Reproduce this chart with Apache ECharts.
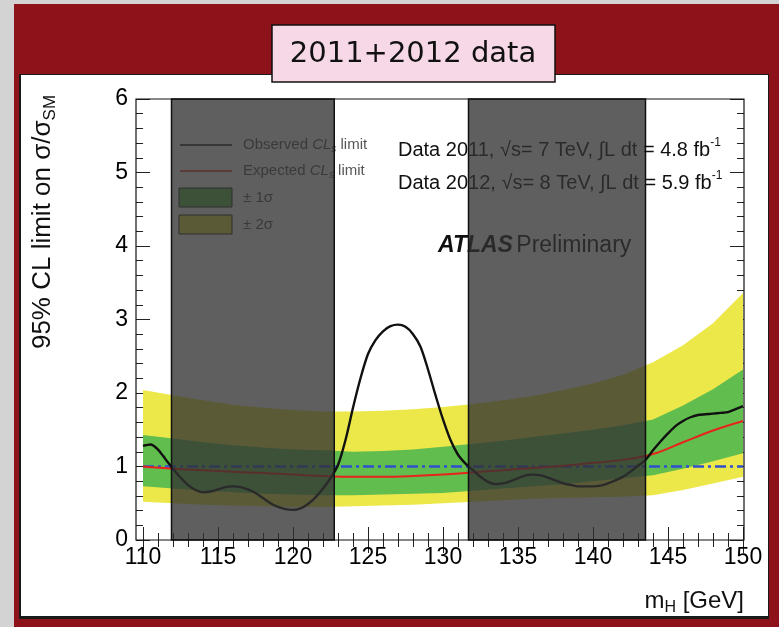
<!DOCTYPE html>
<html>
<head>
<meta charset="utf-8">
<script src="https://cdn.jsdelivr.net/npm/echarts@6/dist/echarts.min.js"></script>
<style>
  html, body { margin: 0; padding: 0; background: #8e1219; }
  #chart { width: 779px; height: 627px; }
</style>
</head>
<body>
<div id="chart"></div>
<script>
// Higgs mass hypotheses (GeV) where the expected limit and its bands are given
const massGrid = [110, 112, 114, 116, 118, 120, 122, 124, 126, 128, 130,
                  132, 134, 136, 138, 140, 142, 144, 146, 148, 150];
// Median expected 95% CL limit on sigma/sigma_SM
const expectedLimit = [1.00, 0.97, 0.95, 0.93, 0.91, 0.89, 0.87, 0.86, 0.86, 0.87, 0.89,
                       0.92, 0.95, 0.98, 1.01, 1.05, 1.09, 1.17, 1.33, 1.49, 1.62];
// Expected-limit uncertainty bands
const band2Down = [0.52, 0.50, 0.48, 0.47, 0.46, 0.45, 0.45, 0.46, 0.47, 0.48, 0.50,
                   0.52, 0.54, 0.56, 0.57, 0.58, 0.59, 0.61, 0.68, 0.77, 0.86];
const band1Down = [0.73, 0.70, 0.67, 0.65, 0.63, 0.62, 0.61, 0.61, 0.62, 0.63, 0.64,
                   0.67, 0.70, 0.73, 0.76, 0.80, 0.84, 0.88, 0.97, 1.07, 1.18];
const band1Up   = [1.43, 1.38, 1.33, 1.29, 1.26, 1.23, 1.22, 1.20, 1.21, 1.23, 1.27,
                   1.31, 1.35, 1.40, 1.45, 1.50, 1.56, 1.64, 1.83, 2.05, 2.32];
const band2Up   = [2.04, 1.97, 1.90, 1.84, 1.80, 1.77, 1.75, 1.75, 1.76, 1.78, 1.81,
                   1.85, 1.90, 1.96, 2.04, 2.13, 2.25, 2.42, 2.65, 2.95, 3.36];

// Observed limit, sampled every 0.5 GeV
const observedMass = [110, 110.5, 111, 111.5, 112, 112.5, 113, 113.5, 114, 114.5,
                      115, 115.5, 116, 116.5, 117, 117.5, 118, 118.5, 119, 119.5,
                      120, 120.5, 121, 121.5, 122, 122.5, 123, 123.5, 124, 124.5,
                      125, 125.5, 126, 126.5, 127, 127.5, 128, 128.5, 129, 129.5,
                      130, 130.5, 131, 131.5, 132, 132.5, 133, 133.5, 134, 134.5,
                      135, 135.5, 136, 136.5, 137, 137.5, 138, 138.5, 139, 139.5,
                      140, 140.5, 141, 141.5, 142, 142.5, 143, 143.5, 144, 144.5,
                      145, 145.5, 146, 146.5, 147, 147.5, 148, 148.5, 149, 149.5, 150];
const observedLimit = [1.28, 1.30, 1.23, 1.10, 0.97, 0.85, 0.75, 0.68, 0.65, 0.66,
                       0.69, 0.72, 0.73, 0.72, 0.69, 0.64, 0.57, 0.50, 0.45, 0.42,
                       0.41, 0.43, 0.49, 0.58, 0.70, 0.84, 1.02, 1.36, 1.80, 2.20,
                       2.53, 2.72, 2.84, 2.91, 2.93, 2.90, 2.80, 2.63, 2.32, 1.97,
                       1.64, 1.36, 1.16, 1.04, 0.95, 0.86, 0.79, 0.76, 0.77, 0.80,
                       0.84, 0.88, 0.89, 0.88, 0.85, 0.81, 0.77, 0.75, 0.73, 0.73,
                       0.73, 0.74, 0.77, 0.81, 0.86, 0.93, 1.01, 1.09, 1.22, 1.34,
                       1.45, 1.55, 1.62, 1.67, 1.70, 1.71, 1.72, 1.73, 1.74, 1.78, 1.82];

// Standard Model reference level
const smReference = 1;
// Mass windows shaded out
const excludedRanges = [[111.9, 122.75], [131.7, 143.5]];

// Axis ranges and tick steps
const xRange = [110, 150];
const yRange = [0, 6];
const xMajorStep = 5;
const yMajorStep = 1;

const FONT = '"Liberation Sans", Helvetica, Arial, sans-serif';
const YELLOW = '#ece84a';
const GREEN = '#62bd4f';
const SHADE = 'rgba(50,50,50,0.78)';

const pairs = (xs, ys) => xs.map((x, i) => [x, ys[i]]);

const chart = echarts.init(document.getElementById('chart'), null, { renderer: 'canvas' });

const tickStyle = { color: '#222', width: 1 };
const commonX = {
  type: 'value', min: xRange[0], max: xRange[1], interval: xMajorStep,
  axisLine: { show: false }, splitLine: { show: false },
  axisTick: { inside: true, length: 13, lineStyle: tickStyle },
  minorTick: { show: true, splitNumber: 5, length: 7, lineStyle: tickStyle }
};
const commonY = {
  type: 'value', min: yRange[0], max: yRange[1], interval: yMajorStep,
  axisLine: { show: false }, splitLine: { show: false },
  axisTick: { inside: true, length: 14, lineStyle: tickStyle },
  minorTick: { show: true, splitNumber: 5, length: 7, lineStyle: tickStyle }
};

// A filled band between a lower and an upper curve, placed through the axes
const bandSeries = (name, lower, upper, color) => ({
  name, type: 'custom', z: 2, silent: true,
  data: pairs(massGrid, upper),
  encode: { x: 0, y: 1 },
  renderItem: (params, api) => {
    if (params.dataIndex !== 0) return null;
    const top = massGrid.map((m, i) => api.coord([m, upper[i]]));
    const bottom = massGrid.map((m, i) => api.coord([m, lower[i]])).reverse();
    return {
      type: 'polygon',
      shape: { points: top.concat(bottom) },
      style: { fill: color, stroke: null }
    };
  }
});

const supText = { fontFamily: FONT, fontSize: 12, verticalAlign: 'top', lineHeight: 12, fill: '#111' };

const option = {
  backgroundColor: '#8e1219',
  animation: false,
  grid: { left: 143, right: 36, top: 99, bottom: 87 },
  xAxis: [
    Object.assign({}, commonX, {
      position: 'bottom',
      axisLabel: { fontFamily: FONT, fontSize: 23, color: '#000', margin: 6 }
    }),
    Object.assign({}, commonX, { position: 'top', axisLabel: { show: false } })
  ],
  yAxis: [
    Object.assign({}, commonY, {
      position: 'left', offset: 7,
      axisLabel: { fontFamily: FONT, fontSize: 23, color: '#000', margin: 8 }
    }),
    Object.assign({}, commonY, { position: 'right', offset: 1, axisLabel: { show: false } })
  ],
  series: [
    bandSeries('2sigma', band2Down, band2Up, YELLOW),
    bandSeries('1sigma', band1Down, band1Up, GREEN),
    {
      name: 'SM', type: 'line', z: 3, symbol: 'none', silent: true,
      data: [[xRange[0], smReference], [xRange[1], smReference]],
      lineStyle: { color: '#2f4fd0', width: 2.5, type: [11, 4, 3, 4] }
    },
    {
      name: 'Expected', type: 'line', z: 3, symbol: 'none', smooth: 0.4, silent: true,
      data: pairs(massGrid, expectedLimit),
      lineStyle: { color: '#e8231c', width: 2 }
    },
    {
      name: 'Observed', type: 'line', z: 3, symbol: 'none', smooth: 0.3, silent: true,
      data: pairs(observedMass, observedLimit),
      lineStyle: { color: '#111', width: 2.4 }
    },
    {
      name: 'Excluded', type: 'custom', z: 5, silent: true,
      data: excludedRanges,
      encode: { x: [0, 1] },
      renderItem: (params, api) => {
        const tl = api.coord([api.value(0), yRange[1]]);
        const br = api.coord([api.value(1), yRange[0]]);
        return {
          type: 'rect',
          shape: { x: tl[0], y: tl[1], width: br[0] - tl[0], height: br[1] - tl[1] },
          style: { fill: SHADE, stroke: '#111', lineWidth: 1.5 }
        };
      }
    }
  ],
  graphic: [
    // page surround
    { type: 'rect', z: -5, shape: { x: 0, y: 0, width: 14, height: 627 }, style: { fill: '#d3d3d3' } },
    { type: 'rect', z: -5, shape: { x: 0, y: 0, width: 779, height: 4 }, style: { fill: '#d3d3d3' } },
    { type: 'rect', z: -4, shape: { x: 19, y: 74, width: 750, height: 545 }, style: { fill: '#1a1a1a' } },
    { type: 'rect', z: -3, shape: { x: 21, y: 75, width: 747, height: 541 }, style: { fill: '#ffffff' } },
    // plot frame
    { type: 'rect', z: 10, shape: { x: 136, y: 99, width: 608, height: 441 },
      style: { fill: 'none', stroke: '#111', lineWidth: 1.2 } },
    // heading box
    { type: 'rect', z: 10, shape: { x: 272, y: 25, width: 283, height: 57 },
      style: { fill: '#f6d8e7', stroke: '#111', lineWidth: 1.5 } },
    { type: 'text', z: 11, x: 413, y: 54,
      style: { text: '2011+2012 data', font: '29px "DejaVu Sans", sans-serif', fill: '#111',
               align: 'center', verticalAlign: 'middle' } },
    // legend
    { type: 'line', z: 1, shape: { x1: 180, y1: 145, x2: 232, y2: 145 }, style: { stroke: '#111', lineWidth: 1.5 } },
    { type: 'line', z: 1, shape: { x1: 180, y1: 171, x2: 232, y2: 171 }, style: { stroke: '#e8231c', lineWidth: 1.5 } },
    { type: 'rect', z: 1, shape: { x: 179, y: 188, width: 53, height: 19 }, style: { fill: GREEN, stroke: '#222', lineWidth: 1 } },
    { type: 'rect', z: 1, shape: { x: 179, y: 215, width: 53, height: 19 }, style: { fill: YELLOW, stroke: '#222', lineWidth: 1 } },
    { type: 'text', z: 1, x: 243, y: 145,
      style: { text: '{t|Observed }{i|CL}{s|s}{t| limit}', verticalAlign: 'middle',
        rich: {
          t: { fontFamily: FONT, fontSize: 15, fill: '#555', lineHeight: 18 },
          i: { fontFamily: FONT, fontSize: 15, fontStyle: 'italic', fill: '#555', lineHeight: 18 },
          s: { fontFamily: FONT, fontSize: 10, fontStyle: 'italic', fill: '#555', verticalAlign: 'bottom', lineHeight: 10 }
        } } },
    { type: 'text', z: 1, x: 243, y: 171,
      style: { text: '{t|Expected }{i|CL}{s|s}{t| limit}', verticalAlign: 'middle',
        rich: {
          t: { fontFamily: FONT, fontSize: 15, fill: '#555', lineHeight: 18 },
          i: { fontFamily: FONT, fontSize: 15, fontStyle: 'italic', fill: '#555', lineHeight: 18 },
          s: { fontFamily: FONT, fontSize: 10, fontStyle: 'italic', fill: '#555', verticalAlign: 'bottom', lineHeight: 10 }
        } } },
    { type: 'text', z: 1, x: 243, y: 198,
      style: { text: '± 1σ', font: '15px ' + FONT, fill: '#555', verticalAlign: 'middle' } },
    { type: 'text', z: 1, x: 243, y: 225,
      style: { text: '± 2σ', font: '15px ' + FONT, fill: '#555', verticalAlign: 'middle' } },
    // dataset annotations
    { type: 'text', z: 1, x: 398, y: 150,
      style: { text: '{t|Data 2011, √s= 7 TeV, ∫L dt = 4.8 fb}{u|-1}', verticalAlign: 'middle',
        rich: { t: { fontFamily: FONT, fontSize: 20, fill: '#111', lineHeight: 26 }, u: supText } } },
    { type: 'text', z: 1, x: 398, y: 183,
      style: { text: '{t|Data 2012, √s= 8 TeV, ∫L dt = 5.9 fb}{u|-1}', verticalAlign: 'middle',
        rich: { t: { fontFamily: FONT, fontSize: 20, fill: '#111', lineHeight: 26 }, u: supText } } },
    { type: 'text', z: 1, x: 438, y: 246,
      style: { text: '{b|ATLAS} {t|Preliminary}', verticalAlign: 'middle',
        rich: {
          b: { fontFamily: FONT, fontSize: 23, fontWeight: 'bold', fontStyle: 'italic', fill: '#111' },
          t: { fontFamily: FONT, fontSize: 23, fill: '#111' }
        } } },
    // axis titles
    { type: 'text', z: 10, x: 43, y: 222, rotation: Math.PI / 2,
      style: { text: '{t|95% CL limit on σ/σ}{s|SM}', align: 'center', verticalAlign: 'middle',
        rich: {
          t: { fontFamily: FONT, fontSize: 26, fill: '#111', lineHeight: 32 },
          s: { fontFamily: FONT, fontSize: 17, fill: '#111', verticalAlign: 'bottom', lineHeight: 17 }
        } } },
    { type: 'text', z: 10, x: 744, y: 601,
      style: { text: '{t|m}{s|H}{t| [GeV]}', align: 'right', verticalAlign: 'middle',
        rich: {
          t: { fontFamily: FONT, fontSize: 24, fill: '#111', lineHeight: 30 },
          s: { fontFamily: FONT, fontSize: 16, fill: '#111', verticalAlign: 'bottom', lineHeight: 16 }
        } } }
  ]
};

chart.setOption(option);
</script>
</body>
</html>
